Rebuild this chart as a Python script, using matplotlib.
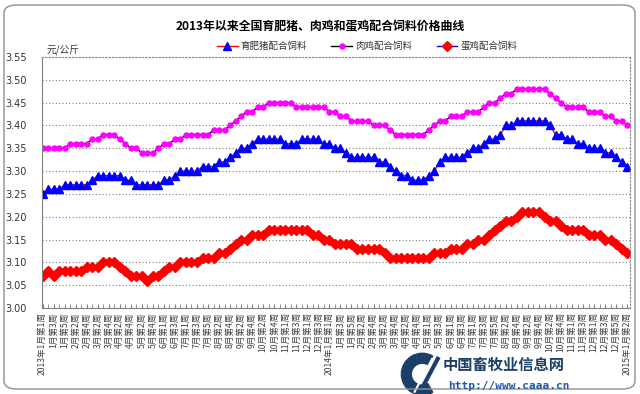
import numpy as np
import matplotlib
matplotlib.use("Agg")
import matplotlib.pyplot as plt
from matplotlib.patches import FancyBboxPatch, Wedge

plt.rcParams['font.family'] = ['Noto Sans CJK SC', 'DejaVu Sans']

# weekly prices, 2013 week 1 .. 2015 Jan week 2 (yuan/kg)
pig = [3.25, 3.26, 3.26, 3.26, 3.27, 3.27, 3.27, 3.27, 3.27, 3.28,
       3.29, 3.29, 3.29, 3.29, 3.29, 3.28, 3.28, 3.27, 3.27, 3.27,
       3.27, 3.27, 3.28, 3.28, 3.29, 3.30, 3.30, 3.30, 3.30, 3.31,
       3.31, 3.31, 3.32, 3.32, 3.33, 3.34, 3.35, 3.35, 3.36, 3.37,
       3.37, 3.37, 3.37, 3.37, 3.36, 3.36, 3.36, 3.37, 3.37, 3.37,
       3.37, 3.36, 3.36, 3.35, 3.35, 3.34, 3.33, 3.33, 3.33, 3.33,
       3.33, 3.32, 3.32, 3.31, 3.30, 3.29, 3.29, 3.28, 3.28, 3.28,
       3.29, 3.30, 3.32, 3.33, 3.33, 3.33, 3.33, 3.34, 3.35, 3.35,
       3.36, 3.37, 3.37, 3.38, 3.40, 3.40, 3.41, 3.41, 3.41, 3.41,
       3.41, 3.41, 3.40, 3.38, 3.38, 3.37, 3.37, 3.36, 3.36, 3.35,
       3.35, 3.35, 3.34, 3.34, 3.33, 3.32, 3.31]

broiler = [3.35, 3.35, 3.35, 3.35, 3.35, 3.36, 3.36, 3.36, 3.36, 3.37,
           3.37, 3.38, 3.38, 3.38, 3.37, 3.36, 3.35, 3.35, 3.34, 3.34,
           3.34, 3.35, 3.36, 3.36, 3.37, 3.37, 3.38, 3.38, 3.38, 3.38,
           3.38, 3.39, 3.39, 3.39, 3.40, 3.41, 3.42, 3.43, 3.43, 3.44,
           3.44, 3.45, 3.45, 3.45, 3.45, 3.45, 3.44, 3.44, 3.44, 3.44,
           3.44, 3.44, 3.43, 3.43, 3.42, 3.42, 3.41, 3.41, 3.41, 3.41,
           3.40, 3.40, 3.40, 3.39, 3.38, 3.38, 3.38, 3.38, 3.38, 3.38,
           3.39, 3.40, 3.41, 3.41, 3.42, 3.42, 3.42, 3.43, 3.43, 3.43,
           3.44, 3.45, 3.45, 3.46, 3.47, 3.47, 3.48, 3.48, 3.48, 3.48,
           3.48, 3.48, 3.47, 3.46, 3.45, 3.44, 3.44, 3.44, 3.44, 3.43,
           3.43, 3.43, 3.42, 3.42, 3.41, 3.41, 3.40]

layer = [3.07, 3.08, 3.07, 3.08, 3.08, 3.08, 3.08, 3.08, 3.09, 3.09,
         3.09, 3.10, 3.10, 3.10, 3.09, 3.08, 3.07, 3.07, 3.07, 3.06,
         3.07, 3.07, 3.08, 3.09, 3.09, 3.10, 3.10, 3.10, 3.10, 3.11,
         3.11, 3.11, 3.12, 3.12, 3.13, 3.14, 3.15, 3.15, 3.16, 3.16,
         3.16, 3.17, 3.17, 3.17, 3.17, 3.17, 3.17, 3.17, 3.17, 3.16,
         3.16, 3.15, 3.15, 3.14, 3.14, 3.14, 3.14, 3.13, 3.13, 3.13,
         3.13, 3.13, 3.12, 3.11, 3.11, 3.11, 3.11, 3.11, 3.11, 3.11,
         3.11, 3.12, 3.12, 3.12, 3.13, 3.13, 3.13, 3.14, 3.14, 3.15,
         3.15, 3.16, 3.17, 3.18, 3.19, 3.19, 3.20, 3.21, 3.21, 3.21,
         3.21, 3.20, 3.19, 3.19, 3.18, 3.17, 3.17, 3.17, 3.17, 3.16,
         3.16, 3.16, 3.15, 3.15, 3.14, 3.13, 3.12]

# every second week is labelled
week_labels = ['2013年1月第1周', '1月第3周', '1月第5周', '2月第2周', '2月第4周',
               '3月第2周', '3月第4周', '4月第2周', '4月第4周', '5月第2周',
               '5月第4周', '6月第1周', '6月第3周', '7月第1周', '7月第3周',
               '7月第5周', '8月第2周', '8月第4周', '9月第2周', '9月第4周',
               '10月第2周', '10月第4周', '11月第1周', '11月第3周', '12月第1周',
               '12月第3周', '2014年1月第1周', '1月第3周', '1月第5周', '2月第2周',
               '2月第4周', '3月第2周', '3月第4周', '4月第2周', '4月第4周',
               '5月第1周', '5月第3周', '6月第1周', '6月第3周', '7月第1周',
               '7月第3周', '7月第5周', '8月第2周', '8月第4周', '9月第2周',
               '9月第4周', '10月第2周', '10月第4周', '11月第1周', '11月第3周',
               '12月第1周', '12月第3周', '12月第5周', '2015年1月第2周']

names = ['育肥猪配合饲料', '肉鸡配合饲料', '蛋鸡配合饲料']
yticks = [3.00, 3.05, 3.10, 3.15, 3.20, 3.25, 3.30, 3.35, 3.40, 3.45, 3.50, 3.55]

x = np.arange(len(pig))

fig = plt.figure(figsize=(6.4, 3.94), dpi=100)
ax = fig.add_axes([42/640, 1-308/394, 588/640, 251/394])

ax.plot(x, pig, color='#FF0000', lw=1, marker='^', ms=5.2,
        mfc='#0000FF', mec='#0000FF', label=names[0])
ax.plot(x, broiler, color='#000000', lw=1, marker='o', ms=3.6,
        mfc='#FF00FF', mec='#FF00FF', label=names[1])
ax.plot(x, layer, color='#0000FF', lw=1, marker='D', ms=4.6,
        mfc='#FF0000', mec='#FF0000', label=names[2])

ax.set_xlim(-0.1, len(pig) - 0.5)
ax.set_ylim(3.0, 3.55)
ax.set_yticks(yticks)
ax.set_yticklabels(['%.2f' % v for v in yticks], fontsize=7, color='#333333',
                   family='DejaVu Sans')
ax.tick_params(axis='y', length=0, pad=11)
ax.yaxis.grid(True, color='#808080', lw=0.8, linestyle=(0, (1, 2)))

ax.set_xticks(x[::2])
ax.set_xticklabels(week_labels, rotation=90, fontsize=6.2, color='#404040')
ax.set_xticks(x, minor=True)
ax.tick_params(axis='x', which='both', direction='in', length=3, color='#808080', pad=3)

for s in ['left', 'bottom']:
    ax.spines[s].set_color('#808080')
for s in ['top', 'right']:
    ax.spines[s].set_color('#808080')
    ax.spines[s].set_linestyle((0, (1, 2)))

fig.text(0.5, 1 - 27/394, '2013年以来全国育肥猪、肉鸡和蛋鸡配合饲料价格曲线',
         ha='center', va='center', fontsize=8.6, fontweight='bold')
fig.text(47/640, 1 - 50/394, '元/公斤', ha='left', va='center', fontsize=7, color='#333333')

leg = fig.legend(loc='center', bbox_to_anchor=(367/640, 1 - 46/394), ncol=3,
                 frameon=False, fontsize=6.8, handlelength=2.2, handletextpad=0.3,
                 columnspacing=2.6)
for t in leg.get_texts():
    t.set_color('#333333')

# figure border
fig.patches.append(FancyBboxPatch((4/640, 5/394), 631/640, 384/394,
                                  boxstyle='round,pad=0,rounding_size=0.02',
                                  transform=fig.transFigure, fill=False,
                                  ec='#909090', lw=1))

# logo
lax = fig.add_axes([395/640, 0, 48/640, 44/394])
lax.set_xlim(-1, 1)
lax.set_ylim(-1, 1)
lax.set_aspect('equal')
lax.axis('off')
lax.add_patch(Wedge((0.15, -0.1), 0.95, 60, 300, width=0.45, color='#1b3f6b'))
lax.plot([-0.2, 0.6], [-0.9, 0.6], color='white', lw=1.5)
lax.plot([0.05, 0.85], [-0.9, 0.6], color='#1b3f6b', lw=3)
fig.text(443/640, 1 - 365/394, '中国畜牧业信息网', ha='left', va='center',
         fontsize=11, color='#1b3f6b', fontweight='bold')
fig.text(448/640, 1 - 386/394, 'http://www.caaa.cn', ha='left', va='center',
         fontsize=8, color='#2255aa', fontweight='bold', family='DejaVu Sans Mono')

fig.savefig('out.png', dpi=100)
plt.close()
